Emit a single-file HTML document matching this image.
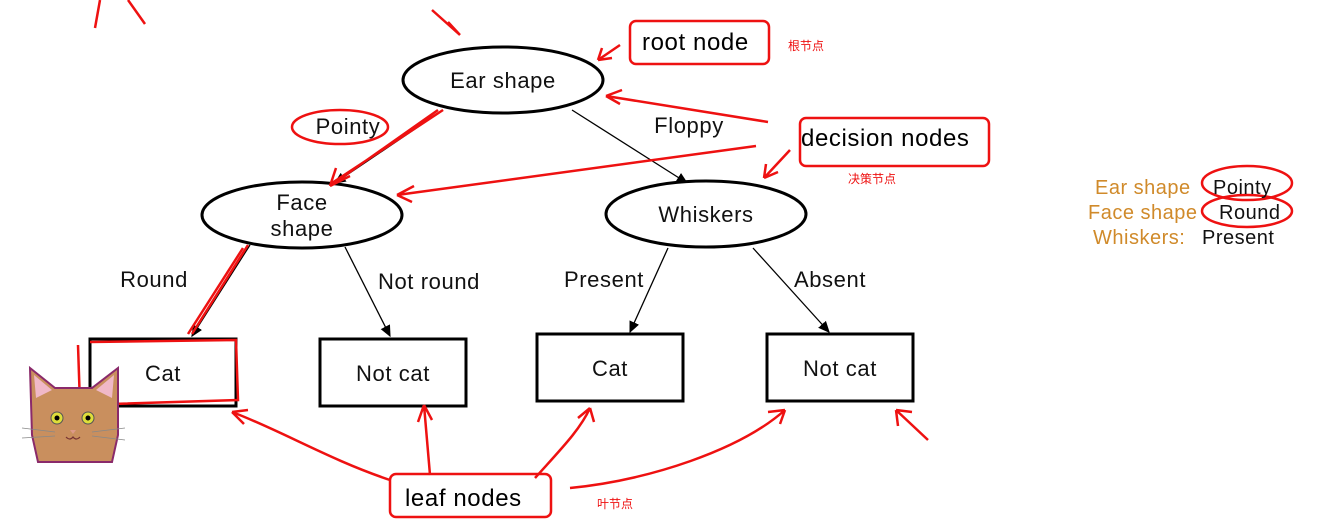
<!DOCTYPE html>
<html><head><meta charset="utf-8"><style>
html,body{margin:0;padding:0;background:#fff;}
svg{display:block;}
text{font-family:"Liberation Sans","DejaVu Sans",sans-serif;}
.cjk{font-family:"Liberation Sans","Noto Sans CJK SC",sans-serif;}
</style></head><body>
<svg width="1339" height="522" viewBox="0 0 1339 522" xmlns="http://www.w3.org/2000/svg">
<defs><marker id="a" markerWidth="10" markerHeight="10" refX="8" refY="5" orient="auto"><path d="M0,1 L9,5 L0,9 z" fill="#000"/></marker></defs>
<g fill="none" stroke="#000" stroke-width="1.3">
<line x1="443" y1="110" x2="335" y2="183" marker-end="url(#a)"/>
<line x1="572" y1="110" x2="687" y2="183" marker-end="url(#a)"/>
<line x1="250" y1="245" x2="192" y2="336" marker-end="url(#a)"/>
<line x1="345" y1="247" x2="390" y2="336" marker-end="url(#a)"/>
<line x1="668" y1="248" x2="630" y2="332" marker-end="url(#a)"/>
<line x1="753" y1="248" x2="829" y2="332" marker-end="url(#a)"/>
</g>
<g fill="#fff" stroke="#000" stroke-width="3">
<ellipse cx="503" cy="80" rx="100" ry="33"/>
<ellipse cx="302" cy="215" rx="100" ry="33"/>
<ellipse cx="706" cy="214" rx="100" ry="33"/>
<rect x="90" y="339" width="146" height="67"/>
<rect x="320" y="339" width="146" height="67"/>
<rect x="537" y="334" width="146" height="67"/>
<rect x="767" y="334" width="146" height="67"/>
</g>
<g font-size="22" fill="#111" text-anchor="middle" letter-spacing="0.6">
<text x="503" y="88">Ear shape</text>
<text x="302" y="210">Face</text><text x="302" y="236">shape</text>
<text x="706" y="222">Whiskers</text>
<text x="163" y="381">Cat</text>
<text x="393" y="381">Not cat</text>
<text x="610" y="376">Cat</text>
<text x="840" y="376">Not cat</text>
<text x="348" y="134">Pointy</text>
<text x="689" y="133">Floppy</text>
<text x="154" y="287">Round</text>
<text x="429" y="289">Not round</text>
<text x="604" y="287">Present</text>
<text x="830" y="287">Absent</text>
</g>
<g fill="none" stroke="#e11" stroke-width="2.5">
<rect x="630" y="21" width="139" height="43" rx="6"/>
<rect x="800" y="118" width="189" height="48" rx="6"/>
<rect x="390" y="474" width="161" height="43" rx="6"/>
<ellipse cx="340" cy="127" rx="48" ry="17"/>
<path d="M443 110 L332 183 M438 110 L330 186 M330 186 L350 176 M330 186 L336 168"/>
<path d="M768 122 L606 96 M606 96 L622 90 M606 96 L620 104"/>
<path d="M756 146 L397 195 M397 195 L414 186 M397 195 L412 202"/>
<path d="M248 245 L192 334 M243 248 L188 334"/>
<path d="M78 345 L80 405 L238 400 L236 340 L90 342"/>
<path d="M430 475 L424 405 M424 405 L418 422 M424 405 L432 420"/>
<path d="M390 480 C330 460 280 430 232 412 M232 412 L248 410 M232 412 L244 424"/>
<path d="M535 478 C560 450 580 430 590 408 M590 408 L578 418 M590 408 L594 422"/>
<path d="M570 488 C650 480 740 450 785 410 M785 410 L768 412 M785 410 L780 424"/>
<path d="M928 440 L896 410 M896 410 L898 426 M896 410 L912 412"/>
<path d="M460 35 L432 10 M460 35 L448 22"/>
<path d="M620 45 L598 60 M598 60 L612 58 M598 60 L602 48"/>
<path d="M790 150 L764 178 M764 178 L778 172 M764 178 L766 164"/>
<path d="M100 0 L95 28 M128 0 L145 24"/>
<ellipse cx="1247" cy="183" rx="45" ry="17"/>
<ellipse cx="1247" cy="211" rx="45" ry="16"/>
</g>
<g font-size="24" fill="#000" letter-spacing="0.6">
<text x="642" y="50">root node</text>
<text x="801" y="146">decision nodes</text>
<text x="405" y="506">leaf nodes</text>
</g>
<g font-size="12" fill="#e11" class="cjk">
<text x="788" y="50">根节点</text>
<text x="848" y="183">决策节点</text>
<text x="597" y="508">叶节点</text>
</g>
<g font-size="20" letter-spacing="0.5">
<text x="1095" y="194" fill="#d08a2a">Ear shape</text><text x="1213" y="194" fill="#111">Pointy</text>
<text x="1088" y="219" fill="#d08a2a">Face shape</text><text x="1219" y="219" fill="#111">Round</text>
<text x="1093" y="244" fill="#d08a2a">Whiskers:</text><text x="1202" y="244" fill="#111">Present</text>
</g>
<g>
<path d="M30 368 L55 388 L92 388 L118 368 L118 435 L112 462 L38 462 L32 435 z" fill="#c98f5e" stroke="#8a2a6a" stroke-width="2"/>
<path d="M34 375 L52 390 L36 398 z M114 375 L96 390 L112 398 z" fill="#f0b8c8"/>
<circle cx="57" cy="418" r="6" fill="#dede3a" stroke="#555"/><circle cx="57" cy="418" r="2.5" fill="#000"/>
<circle cx="88" cy="418" r="6" fill="#dede3a" stroke="#555"/><circle cx="88" cy="418" r="2.5" fill="#000"/>
<path d="M70 430 l6 0 l-3 4z" fill="#d98"/>
<path d="M66 437 q4 4 7 0 q3 4 7 0" fill="none" stroke="#733" stroke-width="1.2"/>
<path d="M22 428 L55 432 M22 438 L55 436 M92 432 L125 428 M92 436 L125 440" stroke="#888" stroke-width="0.8"/>
</g>
</svg>
</body></html>
